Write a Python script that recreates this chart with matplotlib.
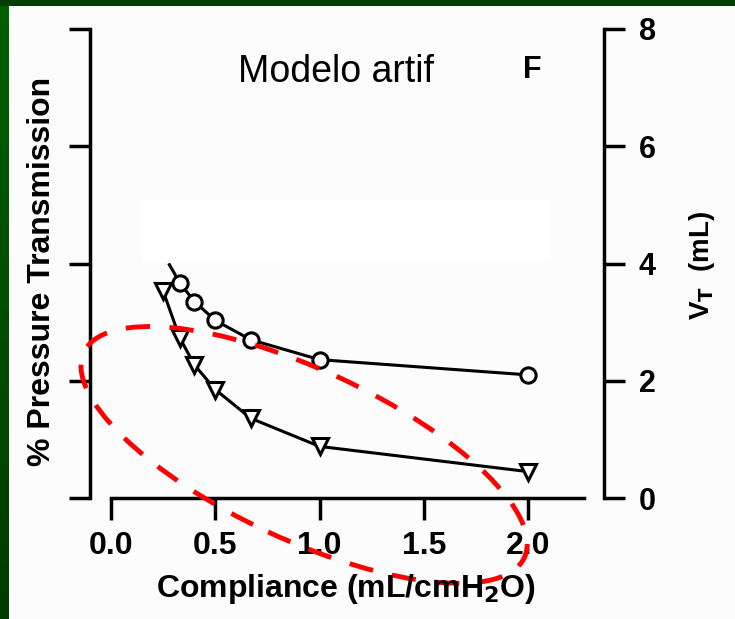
import matplotlib

matplotlib.use("Agg")
import matplotlib.pyplot as plt
import numpy as np
from matplotlib.colors import LinearSegmentedColormap
from matplotlib.patches import Ellipse, Rectangle
from matplotlib.transforms import ScaledTranslation

# ---- data (x = compliance, y = V_T in mL) ---------------------------------
circ_x = [0.33, 0.40, 0.50, 0.67, 1.00, 2.00]
circ_y = [3.67, 3.35, 3.03, 2.70, 2.36, 2.10]
circ_line_x = [0.28] + circ_x          # curve starts a bit above first circle
circ_line_y = [3.98] + circ_y

tri_x = [0.25, 0.33, 0.40, 0.50, 0.67, 1.00, 2.00]
tri_y = [3.53, 2.73, 2.27, 1.85, 1.36, 0.88, 0.45]

x_ticks = [0.0, 0.5, 1.0, 1.5, 2.0]
x_ticklabels = ["0.0", "0.5", "1.0", "1.5", "2.0"]
y_ticks = [0, 2, 4, 6, 8]

W, H = 735, 619
fig = plt.figure(figsize=(W / 100, H / 100), dpi=100)
fig.patch.set_facecolor("#fcfcfc")

# slightly whiter patch left over from the pasted slide
fig.patches.append(Rectangle((142 / W, 1 - 263 / H), 409 / W, 63 / H,
                             transform=fig.transFigure, facecolor="white",
                             edgecolor="none", zorder=0))

# green slide frame (top + left)
fig.patches.append(Rectangle((0, 1 - 6 / H), 1, 6 / H, transform=fig.transFigure,
                             facecolor="#003f00", edgecolor="none", zorder=5))
gax = fig.add_axes([0, 0, 9 / W, 1])
gax.imshow(np.linspace(1, 0, 100)[:, None], aspect="auto",
           cmap=LinearSegmentedColormap.from_list("g", ["#003c00", "#006000"]))
gax.set_axis_off()

ax = fig.add_axes([90 / W, 1 - 498 / H, (604 - 90) / W, (498 - 29) / H])
ax.set_facecolor("none")
ax.set_xlim(-0.1007, 2.364)
ax.set_ylim(0, 8)

ax.plot(circ_line_x, circ_line_y, color="black", lw=2.2, zorder=3)
ax.plot(circ_x, circ_y, ls="none", marker="o", ms=11, mfc="white",
        mec="black", mew=2.2, zorder=4)
ax.plot(tri_x, tri_y, color="black", lw=2.2, marker="v", ms=12,
        mfc="white", mec="black", mew=2.2, zorder=4)

for side in ("left", "right", "bottom"):
    ax.spines[side].set_linewidth(2.5)
ax.spines["top"].set_visible(False)
ax.spines["bottom"].set_bounds(0, 2.27)

ax.set_xticks(x_ticks)
ax.set_xticklabels(x_ticklabels)
ax.set_yticks(y_ticks)
ax.yaxis.set_ticks_position("both")
ax.tick_params(axis="y", labelleft=False, labelright=True, length=15,
               width=2.5, direction="out", pad=10)
ax.tick_params(axis="x", length=16, width=2.5, direction="out", pad=8)
for lab in ax.get_xticklabels():
    lab.set_fontfamily("Liberation Sans")
    lab.set_fontweight("bold")
    lab.set_fontsize(23)
for lab in ax.get_yticklabels():
    lab.set_fontfamily("Liberation Sans")
    lab.set_fontweight("bold")
    lab.set_fontsize(22)

bold = dict(family="Liberation Sans", weight="bold")
ax.text(-0.094, 0.483, "% Pressure Transmission", transform=ax.transAxes,
        rotation=90, ha="center", va="center", fontsize=23, **bold)
ax.text(1.19, 0.495, r"V$_\mathbf{T}$  (mL)", transform=ax.transAxes,
        rotation=90, ha="center", va="center", fontsize=20, **bold)
fig.text(346 / W, 22 / H, r"Compliance (mL/cmH$_\mathbf{2}$O)", ha="center",
         va="baseline", fontsize=23, **bold)

fig.text(336 / W, 1 - 82 / H, "Modelo artif", ha="center", va="baseline",
         fontsize=27, family="Liberation Sans")
fig.text(532 / W, 1 - 70 / H, "F", ha="center", va="center", fontsize=22, **bold)

# red dashed ellipse drawn over the plot (size in inches, centre in data units)
ell = Ellipse((0, 0), 4.86, 1.70, angle=-25, fill=False, edgecolor="#ff0000",
              lw=3.5, ls=(0, (5, 4)), clip_on=False, zorder=10,
              transform=fig.dpi_scale_trans + ScaledTranslation(0.926, 0.735, ax.transData))
ax.add_patch(ell)

fig.savefig("out.png", dpi=100, facecolor=fig.get_facecolor())
